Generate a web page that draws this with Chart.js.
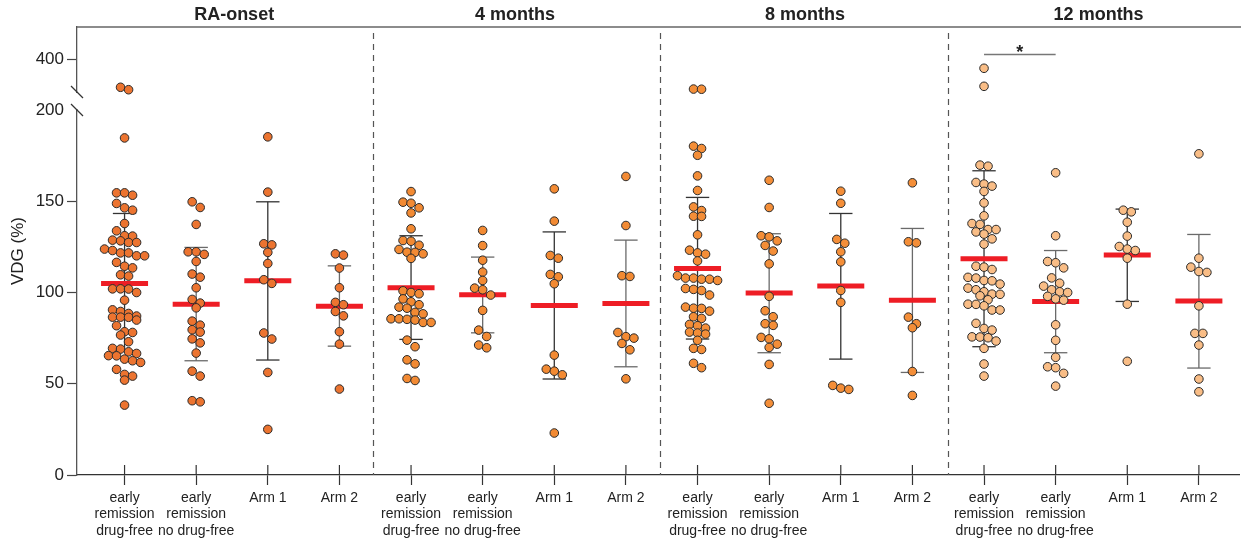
<!DOCTYPE html>
<html>
<head>
<meta charset="utf-8">
<script src="https://cdn.jsdelivr.net/npm/chart.js"></script>
<style>
  body { margin: 0; background: #fff; }
  #wrap { width: 1241px; height: 544px; }
</style>
</head>
<body>
<div id="wrap"><canvas id="chart" width="1241" height="544"></canvas></div>
<script>
// ---------- data ----------
const groupTitles = ['RA-onset', '4 months', '8 months', '12 months'];
const categories = [
    ['early', 'remission', 'drug-free'], ['early', 'remission', 'no drug-free'], ['Arm 1'], ['Arm 2'],
    ['early', 'remission', 'drug-free'], ['early', 'remission', 'no drug-free'], ['Arm 1'], ['Arm 2'],
    ['early', 'remission', 'drug-free'], ['early', 'remission', 'no drug-free'], ['Arm 1'], ['Arm 2'],
    ['early', 'remission', 'drug-free'], ['early', 'remission', 'no drug-free'], ['Arm 1'], ['Arm 2']
];
const yTicksLow = [0, 50, 100, 150, 200];
const yTicksHigh = [400];

// VDG (%) per patient
const onsetDrugFree = [229, 214, 184.7, 154.6, 153.3, 154.6, 148.8, 146.4, 145.1, 137.8, 133.8, 131.1, 127.4, 128.3, 127.4, 128.7, 130.9, 123.8, 121.7, 120.1, 123.0, 120.1, 121.7, 113.5, 116.5, 114.4, 109.0, 109.7, 101.9, 102.0, 100.0, 102.0, 95.8, 89.6, 86.4, 84.9, 88.5, 86.5, 90.5, 86.5, 87.1, 81.8, 78.5, 76.7, 78.1, 73.0, 69.4, 69.0, 67.5, 63.5, 62.6, 66.6, 65.3, 65.4, 61.7, 57.9, 54.2, 52.0, 55.1, 38.3];
const onsetNoDrugFree = [146.6, 149.7, 137.3, 122.3, 122.3, 120.9, 117.0, 110.1, 108.4, 102.6, 96.2, 91.6, 94.2, 84.3, 79.6, 74.6, 82.1, 78.3, 72.4, 66.8, 54.2, 56.9, 40.1, 40.7];
const onsetArm1 = [185.3, 155.0, 126.7, 126.1, 122.0, 115.9, 107.0, 105.0, 77.8, 74.5, 56.2, 25.0];
const onsetArm2 = [120.5, 121.2, 113.4, 102.6, 94.6, 93.3, 89.6, 87.2, 78.5, 71.7, 47.1];
const m4DrugFree = [155.3, 149.5, 148.9, 146.4, 143.6, 134.9, 128.5, 125.9, 128.1, 123.6, 121.2, 122.0, 122.1, 118.7, 100.0, 100.9, 99.3, 96.5, 94.9, 93.3, 92.0, 91.4, 88.3, 89.1, 85.3, 83.6, 84.9, 85.6, 83.6, 85.6, 73.9, 70.3, 60.9, 63.1, 51.8, 52.9];
const m4NoDrugFree = [134.0, 125.7, 117.7, 111.2, 106.6, 101.5, 102.4, 98.6, 90.2, 79.4, 75.9, 69.7, 71.2];
const m4Arm1 = [156.8, 139.1, 120.3, 118.8, 108.6, 109.9, 104.8, 65.7, 58.0, 56.9, 54.9, 23.0];
const m4Arm2 = [163.6, 136.7, 108.8, 109.2, 75.8, 75.0, 78.1, 72.1, 68.6, 52.7];
const m8DrugFree = [218, 217, 180.2, 178.9, 175.2, 163.9, 155.9, 146.9, 144.9, 141.8, 141.7, 131.6, 123.2, 121.0, 121.7, 117.3, 106.6, 107.3, 107.9, 109.2, 107.9, 107.3, 102.2, 101.7, 101.1, 98.6, 92.0, 89.8, 91.4, 91.3, 86.7, 85.8, 82.5, 81.8, 80.5, 77.8, 78.3, 77.2, 73.8, 68.8, 69.4, 58.8, 61.2];
const m8NoDrugFree = [161.5, 146.6, 130.5, 131.1, 125.8, 128.3, 122.7, 115.7, 97.9, 90.0, 86.7, 82.0, 82.9, 71.7, 74.6, 75.4, 69.9, 60.6, 39.3];
const m8Arm1 = [155.5, 148.9, 129.1, 127.0, 122.3, 116.8, 101.1, 94.6, 46.9, 49.1, 47.6];
const m8Arm2 = [160.1, 127.2, 127.8, 86.5, 82.9, 80.7, 56.7, 43.6];
const m12DrugFree = [346, 235, 169.2, 169.8, 159.4, 158.3, 160.3, 155.4, 149.1, 142.0, 137.8, 137.3, 133.2, 132.0, 134.5, 134.5, 129.4, 126.5, 113.9, 112.6, 114.4, 107.9, 106.6, 106.4, 108.3, 104.6, 102.4, 101.5, 99.1, 100.4, 99.0, 98.2, 96.0, 92.7, 93.6, 93.5, 90.4, 90.4, 83.1, 80.3, 79.4, 75.2, 75.6, 75.7, 73.4, 69.4, 60.8, 54.2];
const m12NoDrugFree = [165.6, 131.1, 116.3, 113.5, 117.0, 108.0, 105.1, 103.5, 100.0, 100.4, 101.5, 97.9, 95.8, 96.5, 82.3, 73.8, 64.5, 58.8, 59.3, 55.7, 48.7];
const m12Arm1 = [144.2, 145.1, 138.5, 130.9, 125.2, 123.8, 123.0, 118.8, 93.6, 62.3];
const m12Arm2 = [176.0, 118.8, 113.9, 111.5, 111.0, 92.7, 77.6, 77.6, 71.2, 52.6, 45.6];

// mean and mean +/- SD per column
const meanVDG = [105.0, 93.6, 106.4, 92.5, 102.6, 98.7, 92.9, 94.0, 113.2, 99.7, 103.5, 95.7, 118.5, 95.1, 120.5, 95.3];
const sdUpper = [143.3, 124.7, 149.7, 114.6, 131.1, 119.4, 133.2, 128.7, 152.1, 132.2, 143.3, 135.1, 166.7, 123.0, 145.7, 131.8];
const sdLower = [68.1, 62.6, 63.0, 70.6, 74.3, 77.9, 52.6, 59.3, 74.5, 67.0, 63.5, 56.2, 70.3, 67.0, 95.1, 58.6];

// significance: 12 months drug-free vs no drug-free
const sigPair = [12, 13];
const sigLabel = '*';

const columns = [
    onsetDrugFree, onsetNoDrugFree, onsetArm1, onsetArm2,
    m4DrugFree, m4NoDrugFree, m4Arm1, m4Arm2,
    m8DrugFree, m8NoDrugFree, m8Arm1, m8Arm2,
    m12DrugFree, m12NoDrugFree, m12Arm1, m12Arm2
];

// ---------- look ----------
const FONT = "'Liberation Sans', Arial, sans-serif";
const groupFill = ['#EC7430', '#F28A33', '#F48E38', '#F9BD86'];
const BREAK_AT = 200;

// spread the dots of one column sideways (rows of touching dots, centred)
function swarm(values, center) {
    const step = 8 / 71.5;
    const toPx = v => v <= BREAK_AT ? v * 1.826 : 383 + (v - BREAK_AT) * 0.1625;
    const sorted = values.slice().sort((a, b) => b - a);
    const out = [];
    let row = [];
    const flush = () => {
        row.forEach((v, k) => out.push({ x: center + (k - (row.length - 1) / 2) * step, y: v }));
        row = [];
    };
    sorted.forEach(v => {
        if (row.length && toPx(row[0]) - toPx(v) > 7.2) flush();
        row.push(v);
    });
    flush();
    return out;
}

const datasets = [];

// dots, one low/high dataset per time point
groupTitles.forEach((g, gi) => {
    let low = [], high = [];
    for (let c = gi * 4; c < gi * 4 + 4; c++) {
        swarm(columns[c], c).forEach(p => (p.y > BREAK_AT ? high : low).push(p));
    }
    [[low, 'y'], [high, 'y2']].forEach(([pts, axis]) => {
        datasets.push({
            data: pts,
            yAxisID: axis,
            pointRadius: 4.3,
            pointBackgroundColor: groupFill[gi],
            pointBorderColor: '#2a2a2a',
            pointBorderWidth: 1,
            order: 1
        });
    });
});

// mean bars
datasets.push({
    data: meanVDG.map((m, i) => ({ x: i, y: m })),
    yAxisID: 'y',
    pointStyle: 'line',
    pointRadius: 23.5,
    pointBorderWidth: 5,
    pointBorderColor: '#EE1D25',
    order: 2
});

// SD whiskers with caps
meanVDG.forEach((m, i) => {
    const col = i % 2 === 0 ? '#333333' : '#6a6a6a';
    datasets.push({
        data: [{ x: i, y: sdLower[i] }, { x: i, y: sdUpper[i] }],
        yAxisID: 'y',
        showLine: true,
        borderColor: col,
        borderWidth: 1.3,
        pointStyle: 'line',
        pointRadius: 11.7,
        pointBorderColor: col,
        pointBorderWidth: 1.3,
        order: 3
    });
});

// significance bar
datasets.push({
    data: [{ x: sigPair[0], y: 430 }, { x: sigPair[1], y: 430 }],
    yAxisID: 'y2',
    showLine: true,
    borderColor: '#777',
    borderWidth: 1.5,
    pointRadius: 0,
    order: 3
});

const decorations = {
    id: 'decorations',
    beforeDatasetsDraw(chart) {
        const ctx = chart.ctx, x = chart.scales.x, area = chart.chartArea;
        ctx.save();
        ctx.strokeStyle = '#555';
        ctx.lineWidth = 1.2;
        ctx.setLineDash([6, 5]);
        [3.47, 7.475, 11.5].forEach(s => {
            const px = Math.round(x.getPixelForValue(s)) + 0.5;
            ctx.beginPath();
            ctx.moveTo(px, area.top + 6);
            ctx.lineTo(px, area.bottom);
            ctx.stroke();
        });
        ctx.restore();
    },
    afterDraw(chart) {
        const ctx = chart.ctx, x = chart.scales.x, y = chart.scales.y, y2 = chart.scales.y2;
        const area = chart.chartArea;
        const ax = area.left;
        ctx.save();

        // top rule
        ctx.strokeStyle = '#666';
        ctx.lineWidth = 1.5;
        ctx.beginPath();
        ctx.moveTo(ax, area.top);
        ctx.lineTo(chart.width, area.top);
        ctx.stroke();

        // axis break
        const b1 = y2.getPixelForValue(BREAK_AT), b2 = y.getPixelForValue(BREAK_AT);
        ctx.fillStyle = '#fff';
        ctx.fillRect(ax - 3, b1 + 1, 6, b2 - b1 - 2);
        ctx.strokeStyle = '#333';
        ctx.lineWidth = 1.2;
        [b1, b2].forEach(b => {
            ctx.beginPath();
            ctx.moveTo(ax - 6, b - 6);
            ctx.lineTo(ax + 6, b + 6);
            ctx.stroke();
        });

        // x ticks also poke up into the plot
        ctx.strokeStyle = '#333';
        ctx.lineWidth = 1.2;
        categories.forEach((c, i) => {
            const px = x.getPixelForValue(i);
            ctx.beginPath();
            ctx.moveTo(px, area.bottom);
            ctx.lineTo(px, area.bottom - 10);
            ctx.stroke();
        });

        // group titles
        ctx.fillStyle = '#222';
        ctx.font = 'bold 18px ' + FONT;
        ctx.textAlign = 'center';
        ctx.textBaseline = 'middle';
        [1.53, 5.45, 9.5, 13.6].forEach((p, i) => ctx.fillText(groupTitles[i], x.getPixelForValue(p), 15));

        // significance mark
        ctx.font = 'bold 18px ' + FONT;
        ctx.textBaseline = 'alphabetic';
        ctx.fillText(sigLabel, x.getPixelForValue((sigPair[0] + sigPair[1]) / 2), y2.getPixelForValue(430) + 3);

        // y title
        ctx.font = '17px ' + FONT;
        ctx.textBaseline = 'middle';
        ctx.translate(18, (area.top + area.bottom) / 2);
        ctx.rotate(-Math.PI / 2);
        ctx.fillText('VDG (%)', 0, 0);
        ctx.restore();
    }
};

const yCommon = {
    type: 'linear',
    position: 'left',
    stack: 'vdg',
    border: { color: '#555', width: 1.3 },
    grid: {
        drawOnChartArea: false,
        tickLength: 10,
        tickWidth: 1.2,
        tickColor: c => (c.tick && c.tick.value === BREAK_AT ? 'rgba(0,0,0,0)' : '#444')
    },
    ticks: { color: '#222', font: { family: FONT, size: 17 }, padding: 3 },
    afterFit: s => { s.width = 77; }
};

new Chart(document.getElementById('chart'), {
    type: 'scatter',
    data: { datasets: datasets },
    options: {
        responsive: false,
        animation: false,
        devicePixelRatio: 1,
        events: [],
        layout: { autoPadding: false, padding: { top: 27, right: 2, left: 0, bottom: 0 } },
        plugins: { legend: { display: false }, tooltip: { enabled: false } },
        scales: {
            x: {
                type: 'linear',
                min: -0.664,
                max: 15.56,
                border: { color: '#333', width: 1.3 },
                grid: { drawOnChartArea: false, tickLength: 10, tickWidth: 1.2, tickColor: '#333' },
                afterBuildTicks: s => { s.ticks = categories.map((c, i) => ({ value: i })); },
                ticks: {
                    autoSkip: false, maxRotation: 0, minRotation: 0, padding: 5,
                    color: '#222', font: { family: FONT, size: 14, lineHeight: 1.17 },
                    callback: v => categories[Math.round(v)]
                },
                afterFit: s => { s.height = 69; s.paddingLeft = 0; s.paddingRight = 0; }
            },
            y: Object.assign({}, yCommon, {
                min: 0, max: 200, stackWeight: 365, weight: 0,
                afterBuildTicks: s => { s.ticks = yTicksLow.map(v => ({ value: v })); }
            }),
            y2: Object.assign({}, yCommon, {
                min: 89.2, max: 600, stackWeight: 83, weight: 1,
                afterBuildTicks: s => { s.ticks = yTicksHigh.map(v => ({ value: v })); }
            })
        }
    },
    plugins: [decorations]
});
</script>
</body>
</html>
